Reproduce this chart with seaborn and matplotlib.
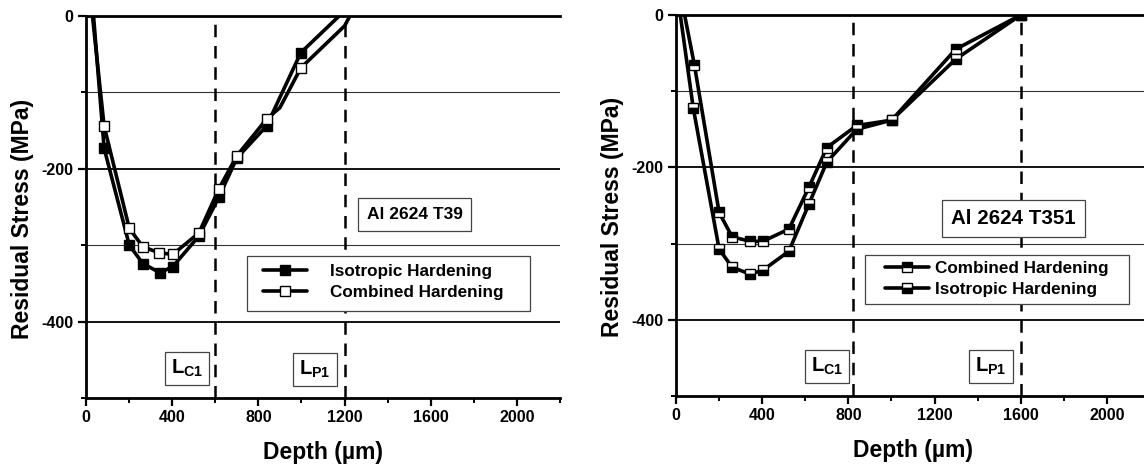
import numpy as np
import pandas as pd
import matplotlib
matplotlib.use("Agg")
import matplotlib.pyplot as plt
import seaborn as sns
from matplotlib.ticker import MultipleLocator
from matplotlib.patches import Rectangle

# ---------------- data ----------------
# Left panel: Al 2624 T39
t39_iso_x = [35, 84, 201, 264, 343, 403, 524, 617, 700, 838, 997, 1175]
t39_iso_y = [0, -173, -300, -324, -336, -328, -288, -237, -186, -144, -48, 0]
t39_comb_x = [30, 84, 201, 264, 340, 403, 524, 617, 700, 838, 900, 997, 1200, 1225]
t39_comb_y = [0, -144, -278, -302, -310, -312, -284, -226, -183, -135, -120, -68, -13, 0]
t39_iso_marks = list(range(1, 11))
t39_comb_marks = [1, 2, 3, 4, 5, 6, 7, 8, 9, 11]

# Right panel: Al 2624 T351
t351_comb_x = [40, 85, 200, 260, 343, 403, 524, 617, 700, 839, 1001, 1298, 1600]
t351_comb_y = [0, -65, -259, -291, -297, -297, -281, -226, -174, -145, -138, -45, 0]
t351_iso_x = [20, 80, 200, 260, 343, 403, 524, 617, 700, 839, 1001, 1298, 1600]
t351_iso_y = [0, -122, -307, -331, -340, -335, -310, -248, -193, -150, -138, -58, 0]
t351_marks = list(range(1, 13))

t39_lines = [600, 1200]
t351_lines = [820, 1600]
x_ticks = [0, 400, 800, 1200, 1600, 2000]
y_ticks = [0, -200, -400]

# ---------------- style ----------------
sns.set_theme(style="white")
plt.rcParams["font.family"] = ["Liberation Sans", "DejaVu Sans"]
plt.rcParams["font.weight"] = "bold"
plt.rcParams["mathtext.fontset"] = "custom"
plt.rcParams["mathtext.bf"] = "Liberation Sans:bold"
plt.rcParams["mathtext.rm"] = "Liberation Sans:bold"
plt.rcParams["axes.unicode_minus"] = False
for k in ["text.color", "axes.labelcolor", "xtick.color", "ytick.color"]:
    plt.rcParams[k] = "black"

fig = plt.figure(figsize=(11.44, 4.68), dpi=100)
axL = fig.add_axes([86 / 1144, 1 - 398 / 468, 474 / 1144, 382 / 468])
axR = fig.add_axes([676 / 1144, 1 - 396 / 468, 474 / 1144, 381 / 468])


def style_axes(ax):
    ax.set_xlim(0, 2200)
    ax.set_ylim(-500, 0)
    ax.set_xticks(x_ticks)
    ax.set_yticks(y_ticks)
    ax.xaxis.set_minor_locator(MultipleLocator(200))
    ax.yaxis.set_minor_locator(MultipleLocator(100))
    ax.tick_params(which="major", direction="out", length=6, width=1.6,
                   labelsize=11.5, colors="black", bottom=True, left=True, pad=3)
    ax.tick_params(which="minor", direction="out", length=3.5, width=1.4,
                   bottom=True, left=True)
    for lab in ax.get_xticklabels() + ax.get_yticklabels():
        lab.set_fontweight("bold")
    for s in ["left", "bottom", "top"]:
        ax.spines[s].set_visible(True)
        ax.spines[s].set_color("black")
        ax.spines[s].set_linewidth(2.0)
    ax.spines["right"].set_visible(False)
    ax.set_axisbelow(True)
    ax.yaxis.grid(True, which="major", color="black", lw=1.3)
    ax.yaxis.grid(True, which="minor", color="#333333", lw=0.8)
    ax.xaxis.grid(False)
    ax.set_xlabel("Depth (\u00b5m)", fontsize=16.5, fontweight="bold", labelpad=11)
    ax.set_ylabel("Residual Stress (MPa)", fontsize=16.5, fontweight="bold")
    ax.yaxis.set_label_coords(-0.11, 0.47)


def vlines(ax, xs):
    for x in xs:
        ax.axvline(x, color="black", lw=1.8, dashes=(5, 3.5), zorder=3)


def label_box(ax, x, y, sub):
    ax.text(x, y, r"$\mathbf{L}_{\mathbf{%s}}$" % sub, fontsize=14.5, ha="center", va="center",
            bbox=dict(boxstyle="square,pad=0.3", fc="white", ec="#444444", lw=0.9), zorder=5)


def legend_box(ax, x0, y0, x1, y1, anchor, textpad):
    ax.add_patch(Rectangle((x0, y0), x1 - x0, y1 - y0, transform=ax.transAxes,
                           fc="white", ec="#444444", lw=0.9, zorder=6))
    leg = ax.legend(loc="center left", bbox_to_anchor=anchor, fontsize=12.3,
                    frameon=False, handlelength=2.6, handletextpad=textpad,
                    borderpad=0, labelspacing=0.4, borderaxespad=0)
    leg.set_zorder(7)
    for t in leg.get_texts():
        t.set_fontweight("bold")
    return leg


# ---------------- left panel ----------------
style_axes(axL)
sns.lineplot(x=t39_iso_x, y=t39_iso_y, ax=axL, sort=False, estimator=None, color="black",
             lw=2.6, marker="s", markersize=6.5, markevery=t39_iso_marks,
             markerfacecolor="black", markeredgecolor="black", mew=1,
             label="Isotropic Hardening", zorder=4)
sns.lineplot(x=t39_comb_x, y=t39_comb_y, ax=axL, sort=False, estimator=None, color="black",
             lw=2.6, marker="s", markersize=7.5, markevery=t39_comb_marks,
             markerfacecolor="white", markeredgecolor="black", mew=1,
             label="Combined Hardening", zorder=4)
vlines(axL, t39_lines)
legend_box(axL, 0.3397, 0.2277, 0.9367, 0.3717, (0.3734, 0.3037), 1.35)
axL.text(1525, -260, "Al 2624 T39", fontsize=12.5, fontweight="bold", ha="center", va="center",
         bbox=dict(boxstyle="square,pad=0.5", fc="white", ec="#444444", lw=0.9), zorder=5)
label_box(axL, 468, -461, "C1")
label_box(axL, 1062, -463, "P1")

# ---------------- right panel ----------------
style_axes(axR)
sns.lineplot(x=t351_comb_x, y=t351_comb_y, ax=axR, sort=False, estimator=None, color="black",
             lw=2.6, marker="s", markersize=7, markevery=t351_marks, fillstyle="top",
             markerfacecolor="black", markerfacecoloralt="white", markeredgecolor="black",
             mew=1, label="Combined Hardening", zorder=4)
sns.lineplot(x=t351_iso_x, y=t351_iso_y, ax=axR, sort=False, estimator=None, color="black",
             lw=2.6, marker="s", markersize=7, markevery=t351_marks, fillstyle="top",
             markerfacecolor="white", markerfacecoloralt="black", markeredgecolor="black",
             mew=1, label="Isotropic Hardening", zorder=4)
vlines(axR, t351_lines)
legend_box(axR, 0.3987, 0.2415, 0.9557, 0.3701, (0.4409, 0.307), 0.3)
axR.text(1567, -267, "Al 2624 T351", fontsize=14.8, fontweight="bold", ha="center", va="center",
         bbox=dict(boxstyle="square,pad=0.45", fc="white", ec="#444444", lw=0.9), zorder=5)
label_box(axR, 700, -461, "C1")
label_box(axR, 1462, -461, "P1")

fig.savefig("out.png", dpi=100)
